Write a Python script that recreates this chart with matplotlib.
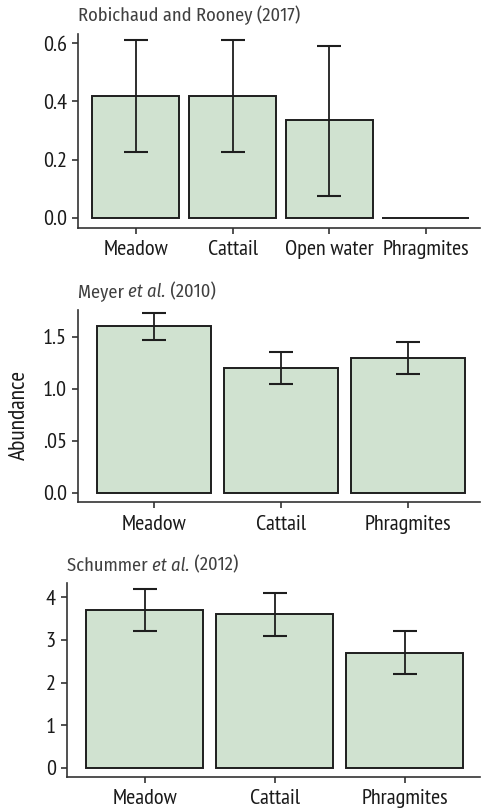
import numpy as np
import matplotlib
matplotlib.use("Agg")
import matplotlib.pyplot as plt

plt.rcParams['font.family'] = ['PT Sans Narrow', 'DejaVu Sans']

# Robichaud and Rooney (2017)
cats1 = ["Meadow", "Cattail", "Open water", "Phragmites"]
vals1 = [0.42, 0.42, 0.335, 0.0]
lo1 = [0.225, 0.225, 0.075, 0.0]
hi1 = [0.61, 0.61, 0.59, 0.0]
ticks1 = [0.0, 0.2, 0.4, 0.6]
tlabels1 = ["0.0", "0.2", "0.4", "0.6"]

# Meyer et al. (2010)
cats2 = ["Meadow", "Cattail", "Phragmites"]
vals2 = [1.6, 1.2, 1.3]
lo2 = [1.47, 1.05, 1.145]
hi2 = [1.725, 1.355, 1.45]
ticks2 = [0.0, 0.5, 1.0, 1.5]
tlabels2 = ["0.0", ".05", "1.0", "1.5"]

# Schummer et al. (2012)
cats3 = ["Meadow", "Cattail", "Phragmites"]
vals3 = [3.7, 3.6, 2.7]
lo3 = [3.2, 3.1, 2.2]
hi3 = [4.2, 4.1, 3.2]
ticks3 = [0, 1, 2, 3, 4]
tlabels3 = ["0", "1", "2", "3", "4"]

FILL = "#d0e2d0"
EDGE = "#1e1e1e"
SPINE = "#333333"
TITLE_FONT = ['Fira Sans Condensed', 'PT Sans Narrow', 'DejaVu Sans']


def draw_panel(ax, cats, vals, lo, hi, ticks, tlabels, ylim, xmax, title_parts):
    x = np.arange(len(cats))
    vals = np.array(vals)
    lo = np.array(lo)
    hi = np.array(hi)
    ax.bar(x, vals, width=0.9, color=FILL, edgecolor=EDGE, linewidth=1.4, zorder=2)
    has_err = hi > vals
    ax.errorbar(x[has_err], vals[has_err],
                yerr=[vals[has_err] - lo[has_err], hi[has_err] - vals[has_err]],
                fmt='none', ecolor=EDGE, elinewidth=1.3, capsize=8.5, capthick=1.5, zorder=3)
    ax.set_xlim(-0.6, xmax)
    ax.set_ylim(*ylim)
    ax.set_xticks(x)
    ax.set_xticklabels(cats, fontsize=16)
    ax.set_yticks(ticks)
    ax.set_yticklabels(tlabels, fontsize=16)
    for s in ["top", "right"]:
        ax.spines[s].set_visible(False)
    for s in ["left", "bottom"]:
        ax.spines[s].set_color(SPINE)
        ax.spines[s].set_linewidth(1.2)
    ax.tick_params(axis='both', colors=SPINE, length=4, width=1.2)
    ax.tick_params(axis='both', labelcolor="#1a1a1a")
    ax.tick_params(axis='x', pad=5)
    ax.tick_params(axis='y', pad=4)
    # title, with italic parts
    tx = 0.0
    renderer = ax.figure.canvas.get_renderer()
    axbb = ax.get_window_extent(renderer=renderer)
    for text, style in title_parts:
        t = ax.text(tx, 1.045, text, transform=ax.transAxes, fontsize=13.3,
                    family=TITLE_FONT, weight='normal',
                    color="#404040", style=style, ha='left', va='bottom')
        bb = t.get_window_extent(renderer=renderer)
        tx += bb.width / axbb.width


fig = plt.figure(figsize=(4.89, 8.11), dpi=100)
ax1 = fig.add_axes([0.1595, 0.719, 0.822, 0.239])
ax2 = fig.add_axes([0.1595, 0.381, 0.822, 0.237])
ax3 = fig.add_axes([0.137, 0.042, 0.8446, 0.239])

draw_panel(ax1, cats1, vals1, lo1, hi1, ticks1, tlabels1, (-0.034, 0.631), 3.56,
           [("Robichaud and Rooney (2017)", "normal")])
draw_panel(ax2, cats2, vals2, lo2, hi2, ticks2, tlabels2, (-0.087, 1.76), 2.57,
           [("Meyer ", "normal"), ("et al.", "italic"), (" (2010)", "normal")])
draw_panel(ax3, cats3, vals3, lo3, hi3, ticks3, tlabels3, (-0.21, 4.33), 2.58,
           [("Schummer ", "normal"), ("et al.", "italic"), (" (2012)", "normal")])

fig.text(0.04, 0.488, "Abundance", rotation=90, fontsize=17, color="#1a1a1a",
         ha='center', va='center')

fig.savefig("out.png", dpi=100)
